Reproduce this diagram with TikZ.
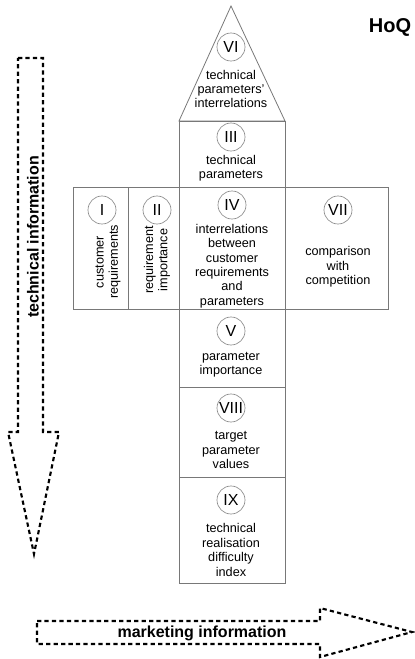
\documentclass[tikz,border=0pt]{standalone}
\usepackage{fontspec}
\setmainfont{Liberation Sans}
\begin{document}
\begin{tikzpicture}[x=0.75pt,y=0.75pt,yscale=-1,xscale=1,
    field/.style={draw={rgb, 255:red, 120; green, 120; blue, 120}, line width=0.6},
    numcircle/.style={circle, draw={rgb, 255:red, 140; green, 140; blue, 140}, line width=0.5, minimum size=21pt, inner sep=0pt, font=\fontsize{12}{14}\selectfont},
    fieldtext/.style={align=center, inner sep=0.75pt, font=\fontsize{9.5}{10.8}\selectfont},
    infoarrow/.style={draw=black, line width=1.6, dash pattern={on 3.2pt off 2.4pt}},
    infotext/.style={inner sep=0.75pt, font=\bfseries\fontsize{12}{14}\selectfont}]
    \useasboundingbox (0,0) rectangle (414,659);
    
    %Shape: Triangle [roof VI]
    \draw [field] (231,6) -- (285,121) -- (179,121) -- cycle ;
    %Shape: Rectangle [III]
    \draw [field] (179,121) rectangle (285,187) ;
    %Shape: Rectangle [I]
    \draw [field] (73,187) rectangle (128,309) ;
    %Shape: Rectangle [II]
    \draw [field] (128,187) rectangle (179,309) ;
    %Shape: Rectangle [IV]
    \draw [field] (179,187) rectangle (285,309) ;
    %Shape: Rectangle [VII]
    \draw [field] (285,187) rectangle (388,309) ;
    %Shape: Rectangle [V]
    \draw [field] (179,309) rectangle (285,387) ;
    %Shape: Rectangle [VIII]
    \draw [field] (179,387) rectangle (285,477) ;
    %Shape: Rectangle [IX]
    \draw [field] (179,477) rectangle (285,583) ;
    
    % Text Node
    \node [numcircle] (vi) at (231,47) {VI};
    \node [fieldtext] (vitext) at (231,89) {technical\\parameters'\\interrelations};
    % Text Node
    \node [numcircle] (iii) at (231,137) {III};
    \node [fieldtext] (iiitext) at (231,168) {technical\\parameters};
    % Text Node
    \node [numcircle] (i) at (102,210) {I};
    \node [fieldtext, rotate=90] (itext) at (108,262) {customer\\requirements};
    % Text Node
    \node [numcircle] (ii) at (157,210) {II};
    \node [fieldtext, rotate=90] (iitext) at (157,260) {requirement\\importance};
    % Text Node
    \node [numcircle] (iv) at (232,205) {IV};
    \node [fieldtext] (ivtext) at (232,266) {interrelations\\between\\customer\\requirements\\and\\parameters};
    % Text Node
    \node [numcircle] (vii) at (338,210) {VII};
    \node [fieldtext] (viitext) at (338,267) {comparison\\with\\competition};
    % Text Node
    \node [numcircle] (v) at (231,331) {V};
    \node [fieldtext] (vtext) at (231,365) {parameter\\importance};
    % Text Node
    \node [numcircle] (viii) at (231,408) {VIII};
    \node [fieldtext] (viiitext) at (231,450) {target\\parameter\\values};
    % Text Node
    \node [numcircle] (ix) at (231,500) {IX};
    \node [fieldtext] (ixtext) at (231,550) {technical\\realisation\\difficulty\\index};
    % Text Node
    \node [font=\bfseries\fontsize{15}{18}\selectfont] (hoq) at (390,27) {HoQ};
    
    %Shape: Arrow [technical information]
    \draw [infoarrow] (18,58) -- (43,58) -- (43,432) -- (59,432) -- (34,554) -- (8,432) -- (18,432) -- cycle ;
    \node [infotext, rotate=90] (techinfo) at (33,237) {technical information};
    %Shape: Arrow [marketing information]
    \draw [infoarrow] (37,621) -- (320,621) -- (320,608) -- (412,632) -- (320,657) -- (320,644) -- (37,644) -- cycle ;
    \node [infotext] (mktinfo) at (202,633) {marketing information};
\end{tikzpicture}
\end{document}
